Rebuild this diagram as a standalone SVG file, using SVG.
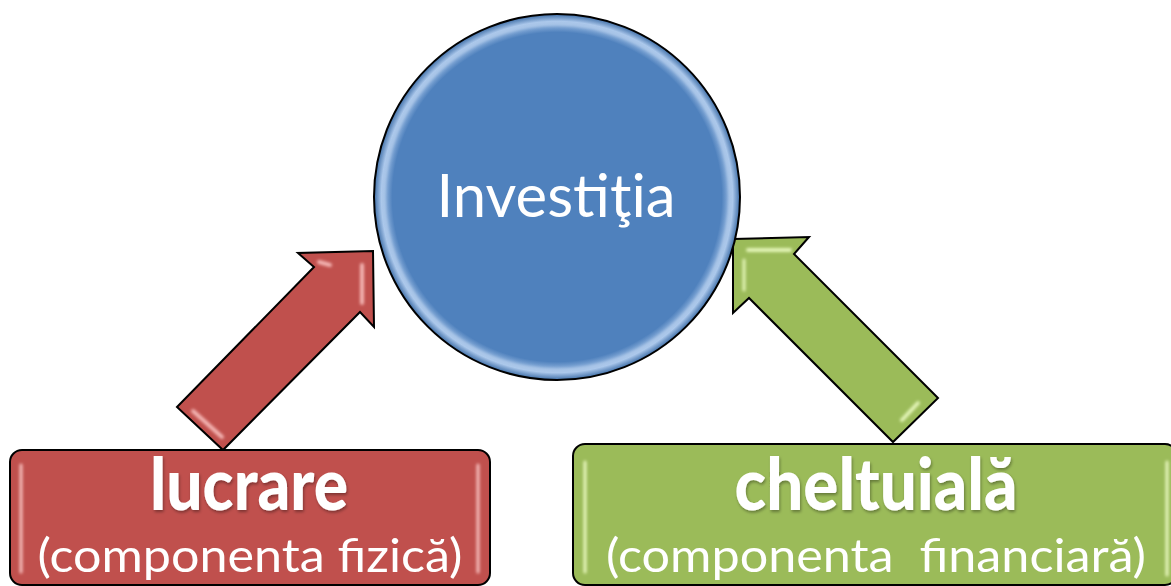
<svg xmlns="http://www.w3.org/2000/svg" width="1171" height="586" viewBox="0 0 1171 586">
<style>
.lbl{font-family:Lato,"Open Sans","Liberation Sans",sans-serif;fill:#ffffff;text-anchor:middle}
.big{font-weight:900;font-size:72px}
.sub{font-size:46px}
.edge{stroke:#000;stroke-width:2;stroke-linejoin:miter}
</style>
<defs>
<radialGradient id="gBlue" cx="50%" cy="50%" r="50%">
<stop offset="0.9" stop-color="#4F81BD"/>
<stop offset="0.96" stop-color="#a9c6ea"/>
<stop offset="1" stop-color="#3f6fa8"/>
</radialGradient>
<filter id="soft" x="-10%" y="-10%" width="120%" height="120%"><feGaussianBlur stdDeviation="1.5"/></filter>
<filter id="shadow" x="-5%" y="-5%" width="110%" height="120%"><feDropShadow dx="1" dy="2" stdDeviation="1.5" flood-color="#000" flood-opacity="0.35"/></filter>
</defs>

<g id="connectors">
<g id="arrow-red">
<polygon class="edge" fill="#C0504D" points="177,407 314,267 298,253 373,251 374,327 360,312 223,450"/>
<g filter="url(#soft)" stroke-linecap="round" fill="none">
<line x1="193" y1="411" x2="222" y2="437" stroke="#f4b6b4" stroke-width="4"/>
<line x1="319" y1="262" x2="330" y2="265" stroke="#f4b6b4" stroke-width="4"/>
<line x1="362" y1="265" x2="362" y2="303" stroke="#f4b6b4" stroke-width="4"/>
</g>
</g>
<g id="arrow-green">
<polygon class="edge" fill="#9BBB59" points="733,239 809,237 794,254 938,398 893,442 749,298 733,313"/>
<g filter="url(#soft)" stroke-linecap="round" fill="none">
<line x1="748" y1="250" x2="790" y2="250" stroke="#e4f5b8" stroke-width="4"/>
<line x1="744" y1="260" x2="744" y2="290" stroke="#e4f5b8" stroke-width="3"/>
<line x1="918" y1="403" x2="902" y2="420" stroke="#e4f5b8" stroke-width="4"/>
</g>
</g>
</g>

<g id="node-investitia">
<circle cx="557" cy="197" r="183" fill="url(#gBlue)" stroke="#000" stroke-width="2"/>
<circle cx="557" cy="197" r="173" fill="none" stroke="#c8dcf4" stroke-width="3" opacity="0.55" filter="url(#soft)"/>
<text class="lbl" x="556" y="217" font-size="60" textLength="239" lengthAdjust="spacingAndGlyphs">Investiţia</text>
</g>

<g id="node-lucrare">
<rect x="10" y="450" width="480" height="135" rx="12" fill="#C0504D" stroke="#000" stroke-width="2"/>
<g filter="url(#soft)" stroke-linecap="round">
<line x1="21" y1="465" x2="21" y2="572" stroke="#f7c2c0" stroke-width="3"/>
<line x1="478" y1="465" x2="478" y2="572" stroke="#f7c2c0" stroke-width="3"/>
</g>
<text class="lbl big" x="249" y="510" textLength="198" lengthAdjust="spacingAndGlyphs" filter="url(#shadow)">lucrare</text>
<text class="lbl sub" x="250" y="572" textLength="425" lengthAdjust="spacingAndGlyphs">(componenta fizică)</text>
</g>

<g id="node-cheltuiala">
<rect x="573" y="444" width="604" height="141" rx="12" fill="#9BBB59" stroke="#000" stroke-width="2"/>
<g filter="url(#soft)" stroke-linecap="round">
<line x1="585" y1="462" x2="585" y2="572" stroke="#eaf8c0" stroke-width="3"/>
<line x1="1167" y1="462" x2="1167" y2="575" stroke="#eaf8c0" stroke-width="3"/>
</g>
<text class="lbl big" x="876" y="510" textLength="283" lengthAdjust="spacingAndGlyphs" filter="url(#shadow)">cheltuială</text>
<text class="lbl sub" x="876" y="572" xml:space="preserve" textLength="540" lengthAdjust="spacingAndGlyphs">(componenta  financiară)</text>
</g>
</svg>
